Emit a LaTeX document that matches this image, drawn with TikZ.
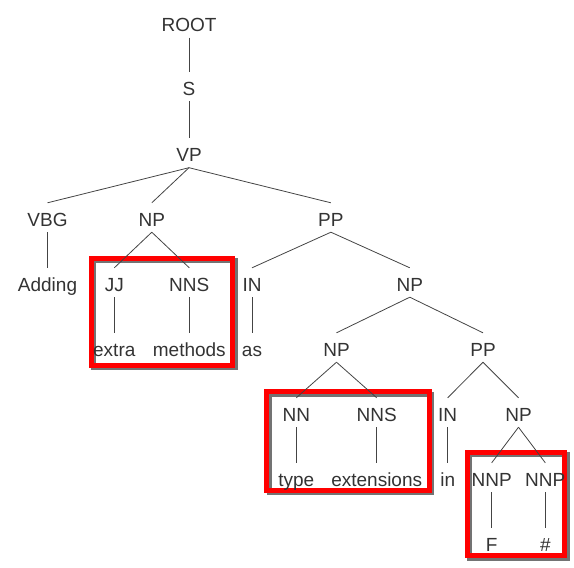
\documentclass[tikz,border=0pt]{standalone}
\usepackage{fontspec}
\setmainfont{Liberation Sans}
\definecolor{treegray}{HTML}{333333}
\definecolor{linegray}{HTML}{444444}
\begin{document}
\begin{tikzpicture}
  [ x=1pt, y=-1pt,
    tag/.style={anchor=base, text=treegray, font=\fontsize{19}{19}\selectfont,
    text height=20pt, text depth=3pt, inner xsep=1pt, inner ysep=3pt},
    edge/.style={draw=linegray, line width=0.8pt},
    hl/.style={draw=red, line width=5pt},
    hlshadow/.style={draw=black, opacity=0.55, line width=5pt, shift={(2.5,2.5)}}
  ]
  \useasboundingbox (0,0) rectangle (574,568);

  % highlight boxes, shadow first
  \draw [hlshadow] (91,258) rectangle (232.5,365);
  \draw [hlshadow] (266.5,391.5) rectangle (429,490);
  \draw [hlshadow] (467,452) rectangle (564.5,555.5);
  \draw [hl] (91,258) rectangle (232.5,365);
  \draw [hl] (266.5,391.5) rectangle (429,490);
  \draw [hl] (467,452) rectangle (564.5,555.5);

  \node (root) at (189,31.5) [tag] {ROOT};
  \node (s)    at (189,95)   [tag] {S};
  \node (vp)   at (189,161.5) [tag] {VP};

  \node (vbg)  at (47.5,226)  [tag] {VBG};
  \node (npa)  at (151.8,226) [tag] {NP};
  \node (ppa)  at (330.9,226) [tag] {PP};

  \node (adding) at (47.5,291)  [tag] {Adding};
  \node (jj)     at (114.3,291) [tag] {JJ};
  \node (nnsa)   at (189.3,291) [tag] {NNS};
  \node (ina)    at (252,291)   [tag] {IN};
  \node (npb)    at (409.8,291) [tag] {NP};

  \node (extra)   at (114.3,356) [tag] {extra};
  \node (methods) at (189.3,356) [tag] {methods};
  \node (as)      at (252,356)   [tag] {as};
  \node (npc)     at (336.5,356) [tag] {NP};
  \node (ppb)     at (483,356)   [tag] {PP};

  \node (nn)   at (296.3,421) [tag] {NN};
  \node (nnsb) at (376.7,421) [tag] {NNS};
  \node (inb)  at (447.7,421) [tag] {IN};
  \node (npd)  at (518.5,421) [tag] {NP};

  \node (type)  at (296.3,486) [tag] {type};
  \node (ext)   at (376.7,486) [tag] {extensions};
  \node (in)    at (447.7,486) [tag] {in};
  \node (nnpa)  at (491.7,486) [tag] {NNP};
  \node (nnpb)  at (545.3,486) [tag] {NNP};

  \node (f)    at (491.7,551) [tag] {F};
  \node (hash) at (545.3,551) [tag] {\#};

  \draw [edge] (root.south) -- (s.north);
  \draw [edge] (s.south) -- (vp.north);
  \draw [edge] (vp.south) -- (vbg.north);
  \draw [edge] (vp.south) -- (npa.north);
  \draw [edge] (vp.south) -- (ppa.north);
  \draw [edge] (vbg.south) -- (adding.north);
  \draw [edge] (npa.south) -- (jj.north);
  \draw [edge] (npa.south) -- (nnsa.north);
  \draw [edge] (ppa.south) -- (ina.north);
  \draw [edge] (ppa.south) -- (npb.north);
  \draw [edge] (jj.south) -- (extra.north);
  \draw [edge] (nnsa.south) -- (methods.north);
  \draw [edge] (ina.south) -- (as.north);
  \draw [edge] (npb.south) -- (npc.north);
  \draw [edge] (npb.south) -- (ppb.north);
  \draw [edge] (npc.south) -- (nn.north);
  \draw [edge] (npc.south) -- (nnsb.north);
  \draw [edge] (ppb.south) -- (inb.north);
  \draw [edge] (ppb.south) -- (npd.north);
  \draw [edge] (nn.south) -- (type.north);
  \draw [edge] (nnsb.south) -- (ext.north);
  \draw [edge] (inb.south) -- (in.north);
  \draw [edge] (npd.south) -- (nnpa.north);
  \draw [edge] (npd.south) -- (nnpb.north);
  \draw [edge] (nnpa.south) -- (f.north);
  \draw [edge] (nnpb.south) -- (hash.north);
\end{tikzpicture}
\end{document}
